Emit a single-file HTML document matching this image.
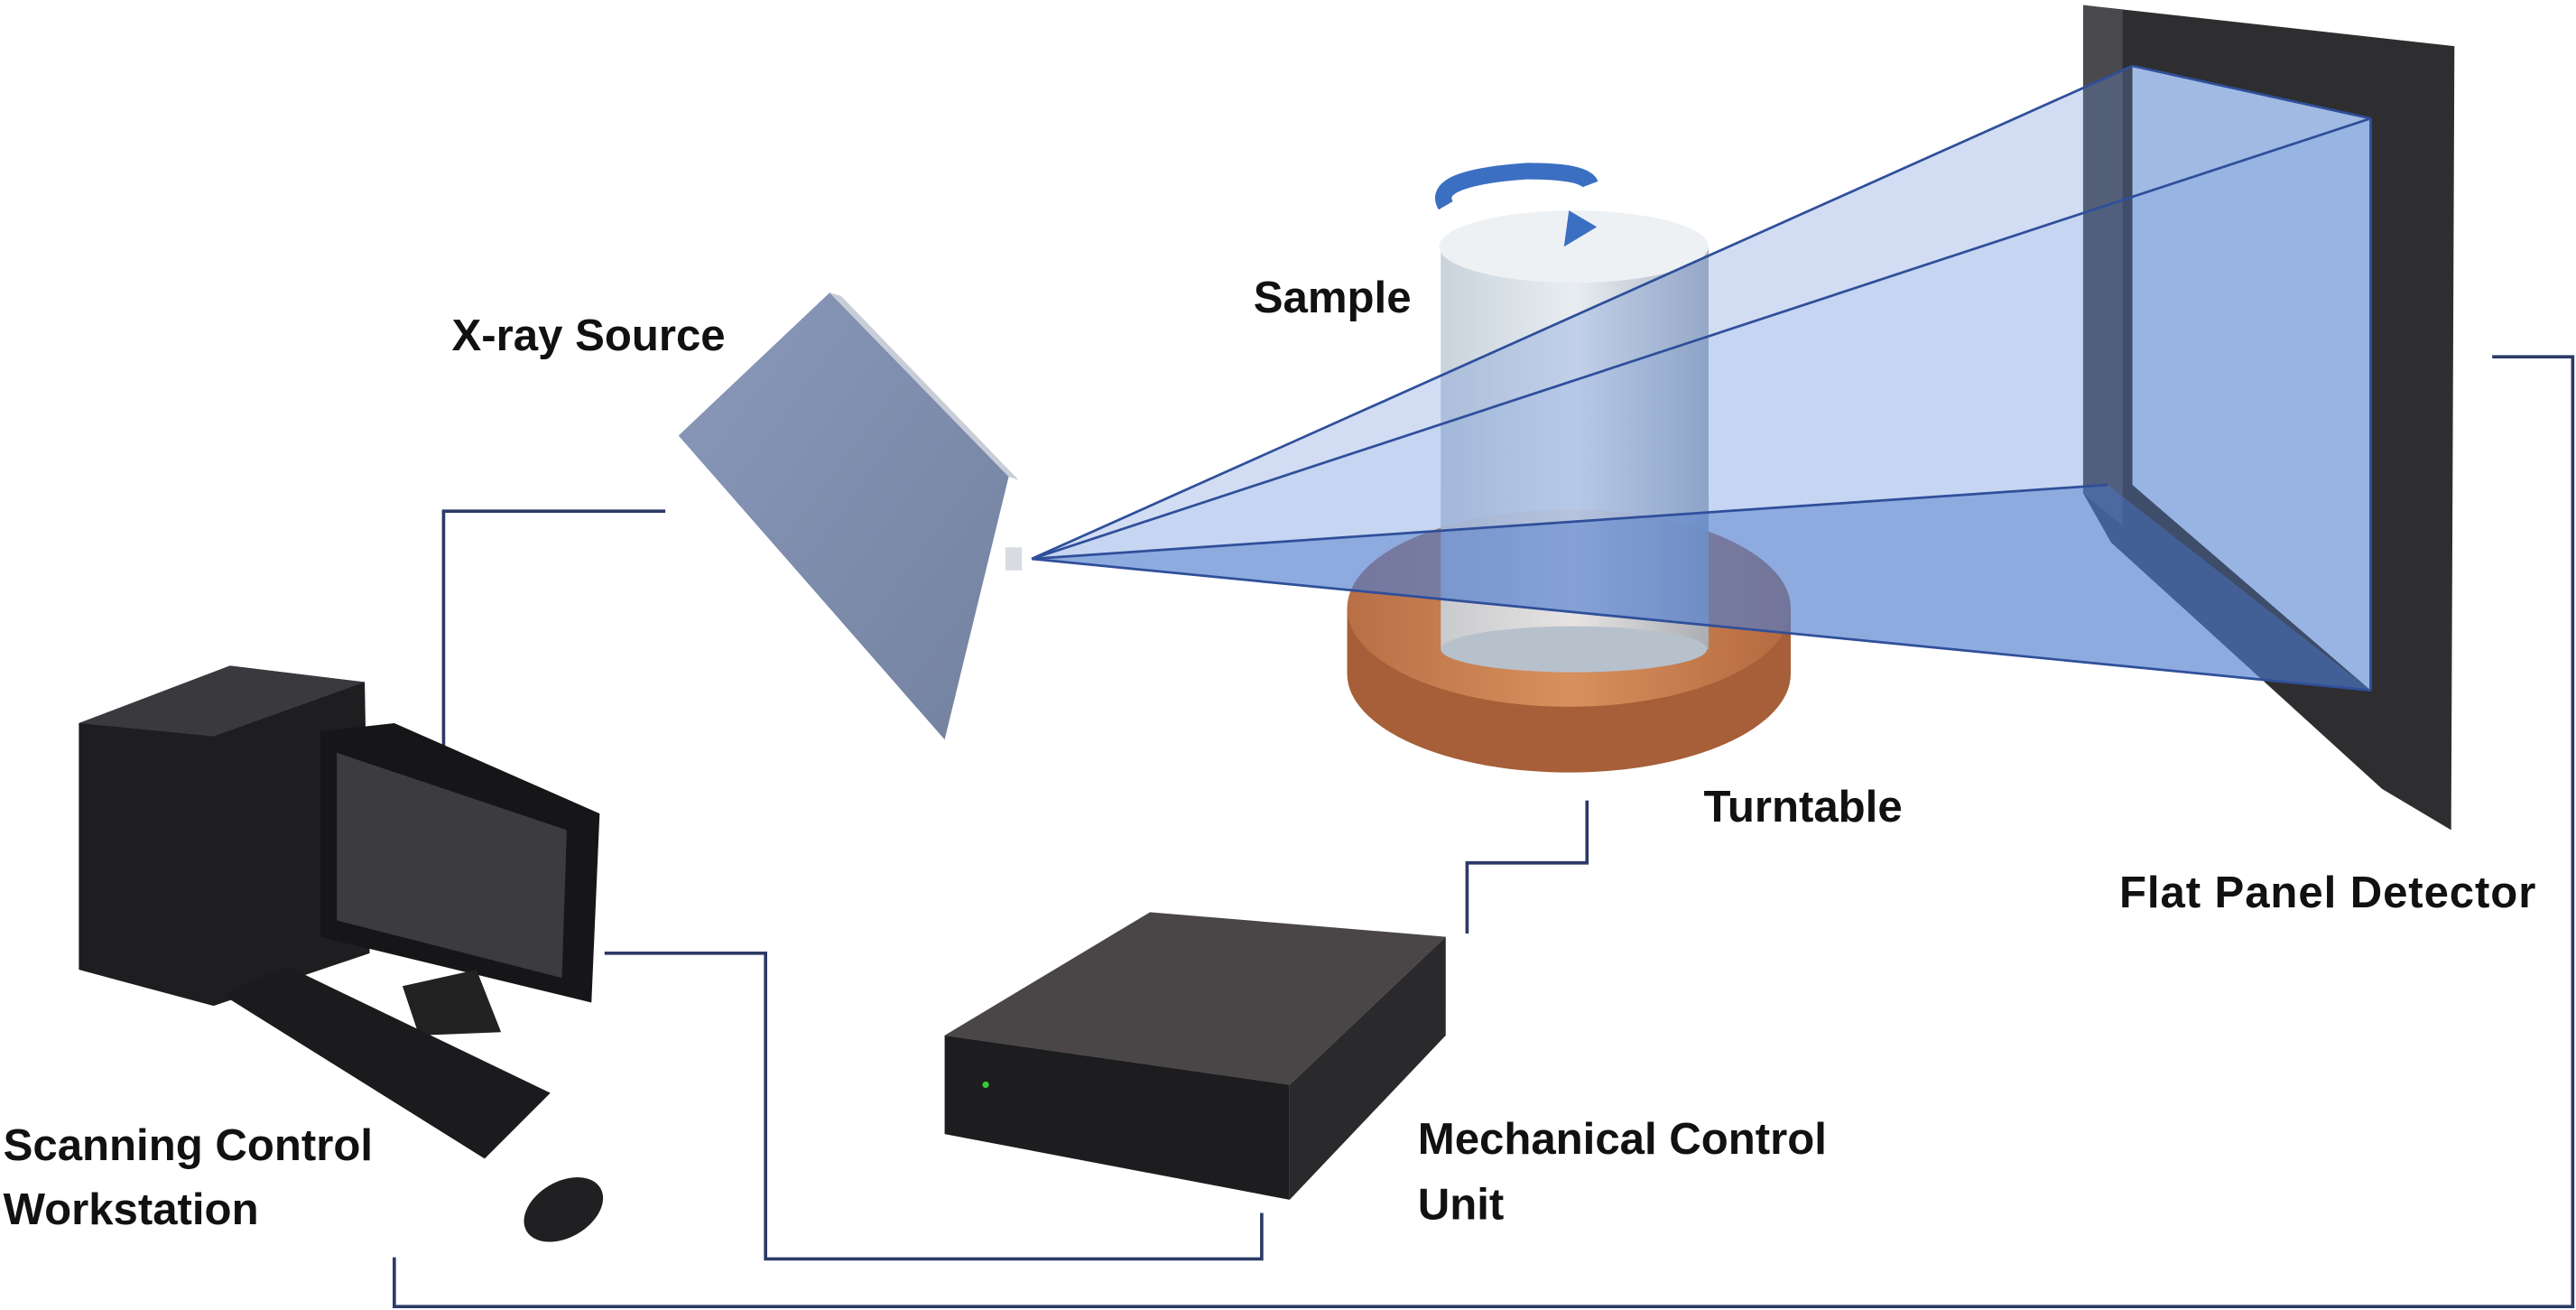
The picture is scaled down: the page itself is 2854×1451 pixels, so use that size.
<!DOCTYPE html>
<html><head><meta charset="utf-8"><style>
html,body{margin:0;padding:0;background:#fff;}
svg{display:block;}
text{font-family:"Liberation Sans",sans-serif;font-weight:bold;font-size:27px;fill:#111;}
</style></head><body>
<svg width="2854" height="1451" viewBox="0 0 1568 797" xmlns="http://www.w3.org/2000/svg">
<defs>
<linearGradient id="cyl" x1="0" x2="1"><stop offset="0" stop-color="#c9d3dc"/><stop offset="0.5" stop-color="#e8edf1"/><stop offset="1" stop-color="#a9b4c0"/></linearGradient>
<linearGradient id="src" x1="0" y1="0" x2="1" y2="1"><stop offset="0" stop-color="#8a98bb"/><stop offset="1" stop-color="#73829f"/></linearGradient>
<linearGradient id="tt" x1="0" x2="1"><stop offset="0" stop-color="#b86f45"/><stop offset="0.5" stop-color="#d8905e"/><stop offset="1" stop-color="#b5693f"/></linearGradient>
</defs>
<g fill="none" stroke="#2c3a66" stroke-width="2">
<polyline points="405,311 270,311 270,455"/>
<polyline points="368,580 466,580 466,766 768,766 768,738"/>
<polyline points="966,487 966,525 893,525 893,568"/>
<polyline points="1517,217 1566,217 1566,795 240,795 240,765"/>
</g>
<g>
<polygon points="1268,3 1494,28 1492,505 1450,480 1285,330 1268,300" fill="#2e2e30"/>
<polygon points="1268,3 1292,6 1292,320 1268,300" fill="#4a4a4e"/>
<polygon points="1298,40 1443,72 1443,420 1298,295" fill="#b9cde8"/>
</g>
<g>
<rect x="877" y="150" width="163" height="245" fill="url(#cyl)"/>
</g>
<g>
<path d="M820,370 L820,410 A135,60 0 0 0 1090,410 L1090,370 Z" fill="#a65f38"/>
<ellipse cx="955" cy="370" rx="135" ry="60" fill="url(#tt)"/>
<rect x="877" y="300" width="163" height="95" fill="url(#cyl)" opacity="0.9"/>
<ellipse cx="958" cy="395" rx="81" ry="14" fill="#b7c1cc"/>
</g>
<ellipse cx="958" cy="150" rx="82" ry="22" fill="#eef1f4"/>
<g>
<polygon points="628,340 1443,72 1443,420" fill="#5b86d6" opacity="0.35"/>
<polygon points="628,340 1283,295 1443,420" fill="#4a78cc" opacity="0.45"/>
<polygon points="628,340 1298,40 1443,72" fill="#6b90d8" opacity="0.3"/>
<g fill="none" stroke="#2f4f9a" stroke-width="1.5">
<line x1="628" y1="340" x2="1443" y2="72"/><line x1="628" y1="340" x2="1443" y2="420"/>
<line x1="628" y1="340" x2="1298" y2="40"/><line x1="628" y1="340" x2="1283" y2="295"/>
<line x1="1298" y1="40" x2="1443" y2="72"/><line x1="1443" y1="72" x2="1443" y2="420"/>
</g>
</g>
<g>
<polygon points="413,265 505,178 614,290 575,450" fill="url(#src)"/>
<polygon points="505,178 512,180 620,292 614,290" fill="#c8cdd8"/>
<rect x="612" y="333" width="10" height="14" fill="#d8dbe2"/>
</g>
<path d="M880,125 Q870,108 930,104 Q965,104 968,112" fill="none" stroke="#3b6fc2" stroke-width="10"/>
<polygon points="955,128 972,138 952,150" fill="#3b6fc2"/>
<g>
<polygon points="48,440 140,405 222,415 225,580 130,612 48,590" fill="#1e1e20"/>
<polygon points="48,440 140,405 222,415 130,448" fill="#3a3a3e"/>
<polygon points="195,445 240,440 365,495 360,610 195,570" fill="#161618"/>
<polygon points="205,458 345,505 342,595 205,560" fill="#3c3c40"/>
<polygon points="245,600 290,590 305,628 255,630" fill="#222"/>
<polygon points="135,605 175,588 335,665 295,705" fill="#1b1b1d"/>
<ellipse cx="343" cy="736" rx="26" ry="17" fill="#202022" transform="rotate(-30 343 736)"/>
</g>
<g>
<polygon points="575,630 700,555 880,570 785,660" fill="#4a4648"/>
<polygon points="575,630 785,660 785,730 575,690" fill="#1d1d1f"/>
<polygon points="785,660 880,570 880,630 785,730" fill="#2a2a2c"/>
<circle cx="600" cy="660" r="2" fill="#3c3"/>
</g>
<text x="275" y="213">X-ray Source</text>
<text x="763" y="190">Sample</text>
<text x="1037" y="500">Turntable</text>
<text x="1290" y="552" style="letter-spacing:0.5px">Flat Panel Detector</text>
<text x="2" y="706">Scanning Control</text>
<text x="2" y="745">Workstation</text>
<text x="863" y="702">Mechanical Control</text>
<text x="863" y="742">Unit</text>
</svg>
</body></html>
